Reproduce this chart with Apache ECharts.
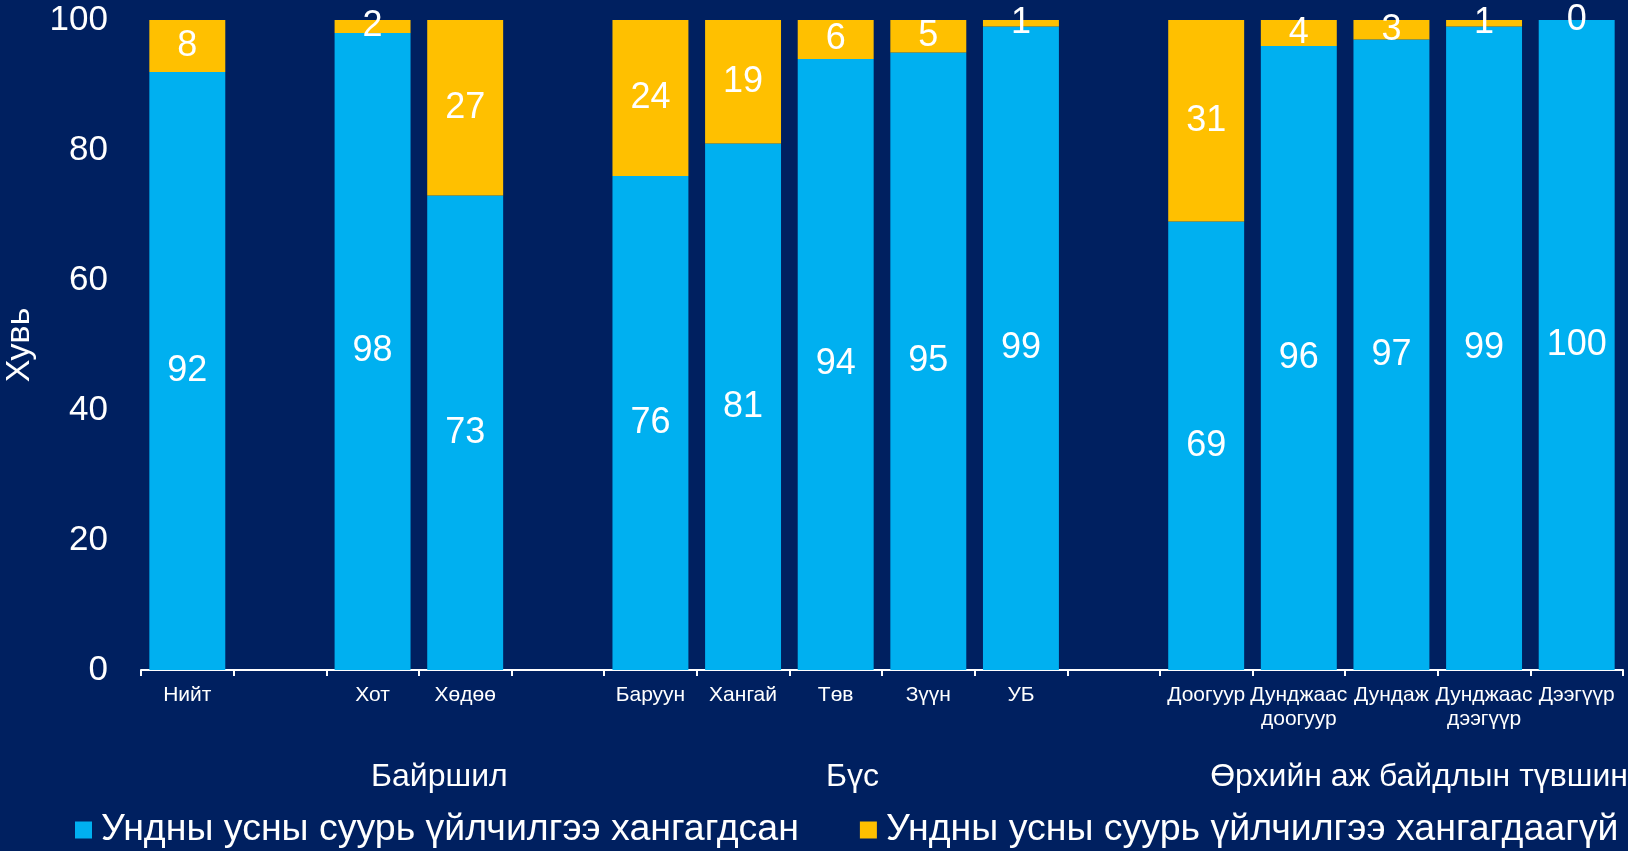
<!DOCTYPE html>
<html>
<head>
<meta charset="utf-8">
<script src="https://cdn.jsdelivr.net/npm/echarts@6/dist/echarts.min.js"></script>
<style>
  html, body { margin: 0; padding: 0; background: #002060; }
  #chart { width: 1628px; height: 851px; }
</style>
</head>
<body>
<div id="chart"></div>
<script>
// categories (empty strings are the gaps between groups)
var categories = ['Нийт', '', 'Хот', 'Хөдөө', '', 'Баруун', 'Хангай', 'Төв', 'Зүүн', 'УБ', '',
    'Доогуур', 'Дунджаас\nдоогуур', 'Дундаж', 'Дунджаас\nдээгүүр', 'Дээгүүр'];
var served = [92, null, 98, 73, null, 76, 81, 94, 95, 99, null, 69, 96, 97, 99, 100];
var notServed = [8, null, 2, 27, null, 24, 19, 6, 5, 1, null, 31, 4, 3, 1, 0];
var yTicks = [0, 20, 40, 60, 80, 100];
var groupLabels = ['Байршил', 'Бүс', 'Өрхийн аж байдлын түвшин'];
var seriesNames = ['Ундны усны суурь үйлчилгээ хангагдсан', 'Ундны усны суурь үйлчилгээ хангагдаагүй'];

var font = '"Liberation Sans", Arial, sans-serif';
var chart = echarts.init(document.getElementById('chart'));

var labelStyle = {
    show: true,
    position: 'inside',
    color: '#ffffff',
    fontSize: 36,
    fontFamily: font
};

var option = {
    backgroundColor: '#002060',
    animation: false,
    grid: { left: 141, right: 5, top: 20, bottom: 181, outerBoundsMode: 'none', containLabel: false },
    legend: {
        left: 70,
        top: 806,
        itemWidth: 17,
        itemHeight: 17,
        itemGap: 61,
        icon: 'rect',
        textStyle: { color: '#ffffff', fontSize: 37.5, fontFamily: font, padding: [0, 0, 0, 4] },
        data: seriesNames
    },
    xAxis: {
        type: 'category',
        data: categories,
        axisLine: { lineStyle: { color: '#ffffff', width: 2 } },
        axisTick: { show: true, length: 6, lineStyle: { color: '#ffffff', width: 2 } },
        axisLabel: { color: '#ffffff', fontSize: 21, fontFamily: font, margin: 13, interval: 0, lineHeight: 24 }
    },
    yAxis: {
        type: 'value',
        min: yTicks[0],
        max: yTicks[yTicks.length - 1],
        interval: 20,
        name: 'Хувь',
        nameLocation: 'middle',
        nameGap: 104,
        nameTextStyle: { color: '#ffffff', fontSize: 34, fontFamily: font },
        axisLine: { show: false },
        axisTick: { show: false },
        splitLine: { show: false },
        axisLabel: { color: '#ffffff', fontSize: 35, fontFamily: font, margin: 33 }
    },
    graphic: [
        { type: 'text', left: 371, top: 761, style: { text: groupLabels[0], fill: '#fff', font: '32px ' + font } },
        { type: 'text', left: 826, top: 761, style: { text: groupLabels[1], fill: '#fff', font: '32px ' + font } },
        { type: 'text', right: 0, top: 761, style: { text: groupLabels[2], fill: '#fff', font: '32px ' + font } }
    ],
    series: [
        {
            name: seriesNames[0],
            type: 'bar',
            stack: 'total',
            barCategoryGap: '18%',
            itemStyle: { color: '#00B0F0' },
            label: labelStyle,
            data: served
        },
        {
            name: seriesNames[1],
            type: 'bar',
            stack: 'total',
            itemStyle: { color: '#FFC000' },
            label: labelStyle,
            data: notServed
        }
    ]
};

chart.setOption(option);
</script>
</body>
</html>
